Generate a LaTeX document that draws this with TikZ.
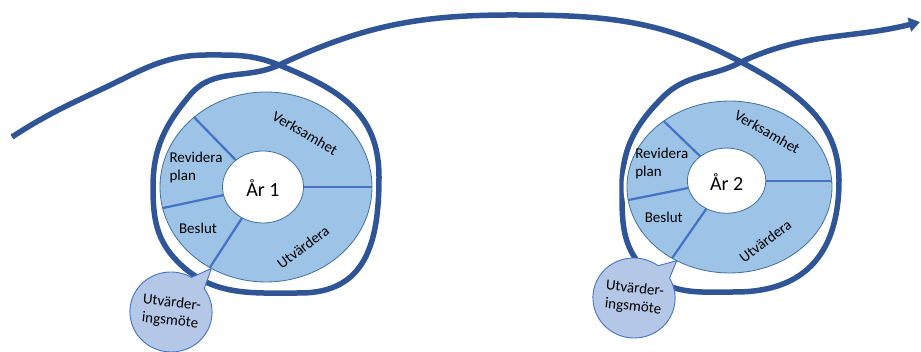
\documentclass[tikz,border=0pt]{standalone}
\usepackage{fontspec}
\setmainfont{Carlito}
\usetikzlibrary{arrows.meta,shapes.callouts}
\definecolor{slinga}{HTML}{2F5597}
\definecolor{hjulfyll}{HTML}{9DC3E6}
\definecolor{hjulkant}{HTML}{41719C}
\definecolor{delning}{HTML}{4472C4}
\definecolor{motefyll}{HTML}{B4C7E7}
\begin{document}
\begin{tikzpicture}[x=1pt,y=1pt]
\tikzset{
etikett/.style={font=\fontsize{15}{18}\selectfont,inner sep=0pt},
motesbubbla/.style={ellipse callout,draw=delning,fill=motefyll,line width=0.9pt,minimum width=80pt,minimum height=80pt,inner sep=0pt,callout pointer arc=24,align=center,font=\fontsize{15}{18}\selectfont}
}
\useasboundingbox (0,0) rectangle (921,352);
% the long line through both years
\draw[slinga,line width=5.5pt,-{Triangle[length=11pt,width=14pt]}] (12,215) to[out=33,in=205] (100,262) to[out=25,in=180] (207,297) to[out=0,in=158] (279,287) to[out=-22,in=90,looseness=1.1] (379,175) to[out=-90,in=0,looseness=1.2] (300,59) to[out=180,in=-45] (178,90) to[out=135,in=-90] (153,165) to[out=90,in=-130] (190,257) to[out=50,in=-155] (279,287) to[out=25,in=180] (511,337) to[out=0,in=152] (741,290) to[out=-28,in=90] (839,172) to[out=-90,in=0,looseness=1.2] (735,60) to[out=180,in=-45] (645,82) to[out=135,in=-90] (622,165) to[out=90,in=-135] (663,255) to[out=45,in=-152] (741,290) to[out=25,in=194] (920,330);
% one wheel per year
\foreach \ar/\cx/\sx/\sy/\iy/\bx/\by in {1/266/1/1/0/171/40, 2/729.5/0.967/0.905/7/634/54}{
\begin{scope}[shift={(\cx,165)},xscale=\sx,yscale=\sy]
\draw[white,line width=7pt] (0,0) ellipse [x radius=106,y radius=95];
\fill[hjulfyll] (0,0) ellipse [x radius=106,y radius=95];
\begin{scope}
\clip (0,0) ellipse [x radius=106,y radius=95];
\foreach \t in {0,132,193,239}
\draw[delning,line width=2.2pt] ([shift={(-3,\iy)}]\t:40.5 and 36) -- ([shift={(-3,\iy)}]\t:115 and 105);
\end{scope}
\draw[hjulkant,line width=0.8pt] (0,0) ellipse [x radius=106,y radius=95];
\filldraw[fill=white,draw=hjulkant,line width=0.8pt] (-3,\iy) ellipse [x radius=40.5,y radius=36];
\coordinate (spets\ar) at (239:106 and 95);
\node[etikett,rotate=-30] (verk\ar) at (39,54+\iy) {Verksamhet};
\node[etikett,rotate=37] (utv\ar) at (37,-60) {Utvärdera};
\node[etikett,align=left] (rev\ar) at (-70,19+\iy) {Revidera\\plan};
\node[etikett] (bes\ar) at (-68,-41+\iy) {Beslut};
\node[font=\fontsize{20}{24}\selectfont,inner sep=0pt] (ar\ar) at (-3,-1+\iy) {År \ar};
\end{scope}
\node[motesbubbla,rotate=-6,callout absolute pointer={(spets\ar)}] (mote\ar) at (\bx,\by) {Utvärder-\\ingsmöte};
}
\end{tikzpicture}
\end{document}
